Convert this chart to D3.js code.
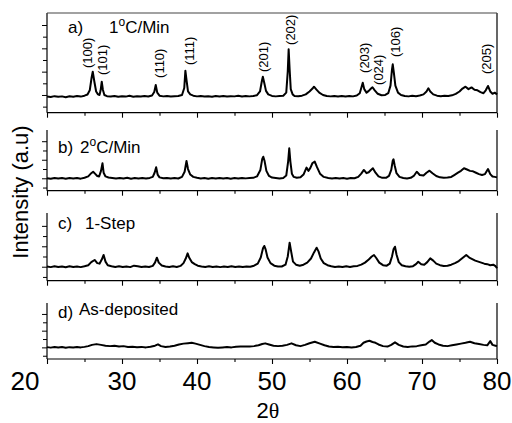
<!DOCTYPE html>
<html>
<head>
<meta charset="utf-8">
<script src="https://cdn.jsdelivr.net/npm/d3@7"></script>
<style>
  body { margin: 0; background: #fff; }
  svg { display: block; }
  text { font-family: "Liberation Sans", Arial, sans-serif; fill: #000; }
</style>
</head>
<body>
<svg id="chart" width="512" height="423"></svg>
<script>
// XRD scans: [2θ (deg), intensity (counts above background)]
const scan1C = [
  [20.0,-14],[20.5,-18],[21.0,-10],[21.5,-16],[22.0,-12],[22.5,-19],[23.0,-11],[23.5,-15],[24.0,-9],[24.5,-14],
  [25.0,-6],[25.4,4],[25.7,40],[25.95,150],[26.1,200],[26.3,120],[26.55,30],[26.8,5],[27.0,0],[27.15,40],
  [27.3,114],[27.45,45],[27.65,0],[28.0,-10],[28.5,-13],[29.0,-8],[29.5,-16],[30.0,-10],[30.5,-14],[31.0,-7],
  [31.5,-15],[32.0,-10],[32.5,-14],[33.0,-9],[33.5,-13],[34.0,-4],[34.3,25],[34.5,86],[34.7,20],[35.0,-6],
  [35.5,-12],[36.0,-9],[36.5,-14],[37.0,-10],[37.5,-8],[38.0,0],[38.3,60],[38.45,208],[38.6,130],[38.8,30],
  [39.1,5],[39.5,-6],[40.0,-12],[40.5,-9],[41.0,-14],[41.5,-10],[42.0,-15],[42.5,-8],[43.0,-13],[43.5,-9],
  [44.0,-14],[44.5,-10],[45.0,-12],[45.5,-7],[46.0,-13],[46.5,-9],[47.0,-12],[47.5,-8],[48.0,-2],[48.4,30],
  [48.65,120],[48.78,157],[48.95,110],[49.2,35],[49.5,5],[50.0,-8],[50.5,-12],[51.0,-9],[51.5,-6],[51.9,20],
  [52.1,200],[52.22,392],[52.35,220],[52.5,50],[52.75,5],[53.0,-8],[53.5,-10],[54.0,-6],[54.5,5],[55.0,30],
  [55.4,55],[55.6,71],[55.9,48],[56.3,20],[56.8,0],[57.3,-9],[57.8,-12],[58.3,-8],[58.8,-13],[59.3,-9],
  [59.8,-14],[60.3,-8],[60.8,-12],[61.3,-5],[61.7,15],[61.95,70],[62.1,105],[62.3,50],[62.6,20],[62.9,35],
  [63.2,55],[63.4,66],[63.7,40],[64.1,10],[64.6,-2],[65.1,0],[65.5,15],[65.8,80],[66.0,220],[66.1,263],
  [66.25,190],[66.45,80],[66.8,20],[67.2,0],[67.7,-8],[68.2,-12],[68.7,-6],[69.2,-10],[69.7,-5],[70.2,5],
  [70.6,30],[70.85,57],[71.1,30],[71.5,5],[72.0,-6],[72.5,-10],[73.0,-7],[73.5,-9],[74.0,-3],[74.5,10],
  [75.0,30],[75.4,55],[75.8,71],[76.2,50],[76.6,65],[77.0,45],[77.4,40],[77.8,25],[78.2,15],[78.5,40],
  [78.8,77],[79.1,30],[79.4,10],[79.7,20],[80.0,5]
];
const scan2C = [
  [20.0,0],[20.5,-6],[21.0,4],[21.5,-3],[22.0,2],[22.5,-5],[23.0,3],[23.5,-2],[24.0,4],[24.5,-4],
  [25.0,6],[25.5,20],[25.9,55],[26.15,71],[26.4,50],[26.7,25],[26.95,20],[27.2,80],[27.4,162],[27.55,60],
  [27.8,20],[28.2,8],[28.7,3],[29.2,-3],[29.7,4],[30.2,-2],[30.7,5],[31.2,-4],[31.7,3],[32.2,-2],
  [32.7,2],[33.2,-3],[33.7,4],[34.1,15],[34.35,60],[34.55,119],[34.75,40],[35.0,10],[35.5,0],[36.0,4],
  [36.5,-3],[37.0,2],[37.5,-2],[38.0,15],[38.35,70],[38.6,187],[38.8,100],[39.1,40],[39.5,15],[40.0,5],
  [40.5,-2],[41.0,3],[41.5,-4],[42.0,2],[42.5,-3],[43.0,4],[43.5,-2],[44.0,3],[44.5,-4],[45.0,2],
  [45.5,-3],[46.0,4],[46.5,-1],[47.0,3],[47.5,5],[48.0,20],[48.45,90],[48.7,210],[48.84,233],[49.0,190],
  [49.25,80],[49.6,25],[50.0,8],[50.5,3],[51.0,-2],[51.5,4],[51.9,30],[52.15,180],[52.3,324],[52.45,180],
  [52.65,50],[52.9,15],[53.3,5],[53.8,10],[54.2,40],[54.6,115],[54.85,80],[55.1,110],[55.4,165],[55.7,180],
  [56.0,120],[56.4,50],[56.9,15],[57.5,3],[58.0,-2],[58.5,3],[59.0,-3],[59.5,2],[60.0,-4],[60.5,3],
  [61.0,0],[61.5,15],[61.9,50],[62.25,90],[62.6,55],[62.9,65],[63.2,90],[63.45,108],[63.8,60],[64.2,20],
  [64.7,5],[65.2,5],[65.6,25],[65.9,90],[66.1,190],[66.2,205],[66.35,140],[66.6,55],[67.0,15],[67.5,3],
  [68.0,-2],[68.5,5],[68.9,25],[69.3,71],[69.7,35],[70.2,30],[70.6,60],[71.0,82],[71.4,55],[71.9,25],
  [72.4,10],[72.9,5],[73.4,8],[73.9,15],[74.3,35],[74.8,60],[75.2,80],[75.6,108],[76.0,95],[76.4,80],
  [76.8,75],[77.2,60],[77.6,45],[78.0,35],[78.4,45],[78.8,100],[79.1,45],[79.4,20],[79.7,15],[80.0,10]
];
const scanOneStep = [
  [20.0,2],[20.5,-4],[21.0,5],[21.5,-3],[22.0,3],[22.5,-5],[23.0,4],[23.5,-2],[24.0,3],[24.5,-4],
  [25.0,5],[25.5,15],[25.9,45],[26.35,66],[26.7,35],[27.0,30],[27.3,70],[27.55,115],[27.8,50],[28.1,15],
  [28.6,5],[29.1,-2],[29.6,4],[30.1,-3],[30.6,3],[31.1,-4],[31.6,10],[32.1,5],[32.6,-2],[33.1,3],
  [33.6,-3],[34.1,8],[34.4,40],[34.65,88],[34.9,40],[35.3,12],[35.8,2],[36.3,-3],[36.8,4],[37.3,-2],
  [37.8,8],[38.2,35],[38.5,80],[38.75,131],[38.95,90],[39.3,45],[39.7,25],[40.1,10],[40.6,3],[41.1,-3],
  [41.6,4],[42.1,-2],[42.6,3],[43.1,-4],[43.6,2],[44.1,-3],[44.6,4],[45.1,-2],[45.6,3],[46.1,-3],
  [46.6,2],[47.1,0],[47.6,10],[48.1,30],[48.5,90],[48.8,180],[48.97,203],[49.15,170],[49.4,90],[49.8,35],
  [50.3,10],[50.8,3],[51.3,2],[51.8,20],[52.1,100],[52.35,235],[52.55,150],[52.8,50],[53.2,20],[53.7,10],
  [54.2,20],[54.7,40],[55.2,80],[55.6,140],[55.95,186],[56.2,150],[56.5,80],[56.9,35],[57.4,15],[57.9,5],
  [58.4,-2],[58.9,3],[59.4,-3],[59.9,4],[60.4,-2],[60.9,5],[61.4,8],[61.9,20],[62.4,40],[62.9,70],
  [63.3,100],[63.6,115],[63.9,85],[64.3,40],[64.8,15],[65.3,10],[65.7,30],[66.0,100],[66.2,170],[66.4,196],
  [66.6,120],[66.9,45],[67.3,15],[67.8,5],[68.3,0],[68.8,5],[69.2,25],[69.5,49],[69.9,25],[70.3,20],
  [70.7,45],[71.1,82],[71.5,60],[71.9,30],[72.4,15],[72.9,8],[73.4,10],[73.9,20],[74.4,35],[74.9,55],
  [75.4,85],[75.9,115],[76.3,90],[76.7,75],[77.1,60],[77.5,50],[77.9,40],[78.3,30],[78.7,25],[79.1,15],
  [79.5,20],[79.8,5],[80.0,-15]
];
const scanAsDep = [
  [20.0,3],[20.5,-3],[21.0,5],[21.5,-2],[22.0,4],[22.5,-4],[23.0,3],[23.5,-1],[24.0,5],[24.5,0],
  [25.0,6],[25.5,15],[26.0,30],[26.6,39],[27.2,30],[27.8,20],[28.4,15],[29.0,20],[29.6,10],[30.2,15],
  [30.8,5],[31.4,8],[32.0,2],[32.6,6],[33.2,0],[33.8,8],[34.4,20],[34.8,36],[35.2,15],[35.8,5],
  [36.4,10],[37.0,20],[37.6,35],[38.2,45],[38.8,50],[39.3,55],[39.8,45],[40.4,30],[41.0,15],[41.6,5],
  [42.2,0],[42.8,-5],[43.4,0],[44.0,5],[44.6,0],[45.2,8],[45.8,10],[46.4,12],[47.0,10],[47.6,15],
  [48.2,25],[48.7,40],[49.1,48],[49.6,35],[50.2,20],[50.8,15],[51.4,20],[52.0,30],[52.6,48],[53.2,25],
  [53.8,15],[54.4,30],[55.0,50],[55.7,67],[56.4,45],[57.0,25],[57.6,10],[58.2,5],[58.8,8],[59.4,2],
  [60.0,5],[60.6,0],[61.2,5],[61.8,20],[62.2,55],[62.6,70],[63.0,79],[63.4,65],[63.8,55],[64.2,35],
  [64.8,15],[65.4,10],[65.9,30],[66.4,60],[66.9,30],[67.5,10],[68.1,5],[68.7,12],[69.3,15],[69.9,25],
  [70.5,35],[71.0,70],[71.3,87],[71.7,55],[72.2,35],[72.8,20],[73.4,15],[74.0,25],[74.6,35],[75.2,45],
  [75.8,55],[76.4,67],[77.0,50],[77.6,40],[78.2,30],[78.7,25],[79.1,75],[79.4,30],[79.8,20],[80.0,15]
];

// Miller indices marked on the 1 °C/min scan: name, 2θ of label, intensity level where label starts
const peakNames = ["(100)","(101)","(110)","(111)","(201)","(202)","(203)","(024)","(106)","(205)"];
const peakLabelTheta = [25.5, 27.5, 35.15, 39.15, 49.05, 52.6, 62.4, 64.3, 66.6, 78.7];
const peakLabelLevel = [231, 171, 146, 257, 197, 429, 189, 86, 326, 180];

const panelLetters = ["a)", "b)", "c)", "d)"];
const panelTitleMain = ["1", "2", "1-Step", "As-deposited"];
const panelTitleSup = ["o", "o", "", ""];
const panelTitleRest = ["C/Min", "C/Min", "", ""];

const xTickValues = [20, 30, 40, 50, 60, 70, 80];
const xMinorValues = [25, 35, 45, 55, 65, 75];
const xTickLabels = ["20", "30", "40", "50", "60", "70", "80"];
const yLabel = "Intensity (a.u)";

const scans = [scan1C, scan2C, scanOneStep, scanAsDep];

// panel geometry (pixels) and intensity ranges
const panels = [
  { top: 13,  bottom: 112.7, lo: -152, hi: 703, frame: true,  letterX: 68, letterY: 33,  titleX: 109, titleY: 33 },
  { top: 130, bottom: 190.7, lo: -134, hi: 521, frame: false, letterX: 58, letterY: 153, titleX: 80,  titleY: 153 },
  { top: 213, bottom: 280.7, lo: -137, hi: 526, frame: false, letterX: 58, letterY: 229, titleX: 85,  titleY: 229 },
  { top: 303, bottom: 359,   lo: -139, hi: 531, frame: false, letterX: 58, letterY: 318, titleX: 79,  titleY: 315 }
];

const left = 47, right = 497;
const svg = d3.select("#chart");
const x = d3.scaleLinear().domain([20, 80]).range([left, right]);

panels.forEach((p, i) => {
  const y = d3.scaleLinear().domain([p.lo, p.hi]).range([p.bottom, p.top]);
  const g = svg.append("g");

  // intensity ticks on the left edge (every 100 counts)
  const yMajor = d3.range(Math.ceil(p.lo / 200) * 200, p.hi - 60, 200);
  const yMinor = d3.range(Math.ceil(p.lo / 100) * 100, p.hi - 60, 100).filter(v => v % 200 !== 0);
  [[yMajor, 5], [yMinor, 4]].forEach(([vals, len]) => {
    g.append("g").attr("transform", `translate(${left},0)`)
      .call(d3.axisLeft(y).tickValues(vals).tickSize(len).tickSizeOuter(0).tickFormat(""))
      .call(a => a.select(".domain").remove())
      .call(a => a.selectAll("line").attr("stroke", "#000"));
  });

  // left and right edges
  g.append("line").attr("x1", left).attr("x2", left).attr("y1", p.top).attr("y2", p.bottom)
    .attr("stroke", "#000").attr("stroke-width", 1.2);
  g.append("line").attr("x1", right).attr("x2", right).attr("y1", p.top).attr("y2", p.bottom)
    .attr("stroke", "#000").attr("stroke-width", 1.2);
  if (p.frame) {
    g.append("line").attr("x1", left).attr("x2", right).attr("y1", p.top).attr("y2", p.top)
      .attr("stroke", "#444").attr("stroke-width", 1.2);
  }

  // 2θ axis along the bottom
  [[xTickValues, 5], [xMinorValues, 3]].forEach(([vals, len]) => {
    g.append("g").attr("transform", `translate(0,${p.bottom})`)
      .call(d3.axisBottom(x).tickValues(vals).tickSize(len).tickSizeOuter(0).tickFormat(""))
      .call(a => a.select(".domain").remove())
      .call(a => a.selectAll("line").attr("stroke", "#000").attr("stroke-width", 1.1));
  });
  g.append("line").attr("x1", left).attr("x2", right).attr("y1", p.bottom).attr("y2", p.bottom)
    .attr("stroke", "#000").attr("stroke-width", 1.2);

  // diffraction pattern
  const line = d3.line().x(d => x(d[0])).y(d => y(d[1]));
  g.append("path").datum(scans[i]).attr("d", line)
    .attr("fill", "none").attr("stroke", "#000").attr("stroke-width", 2)
    .attr("stroke-linejoin", "round");

  // panel caption
  g.append("text").attr("x", p.letterX).attr("y", p.letterY)
    .attr("font-size", 17).text(panelLetters[i]);
  const t = g.append("text").attr("x", p.titleX).attr("y", p.titleY).attr("font-size", 17);
  t.append("tspan").text(panelTitleMain[i]);
  if (panelTitleSup[i]) {
    t.append("tspan").attr("font-size", 12).attr("dy", -7).text(panelTitleSup[i]);
    t.append("tspan").attr("dy", 7).text(panelTitleRest[i]);
  }

  // Miller index labels on the top scan
  if (i === 0) {
    g.selectAll(".hkl").data(peakNames).join("text")
      .attr("class", "hkl")
      .attr("font-size", 13)
      .attr("transform", (d, k) => `translate(${x(peakLabelTheta[k]) + 3.5},${y(peakLabelLevel[k])}) rotate(-90)`)
      .text(d => d);
  }

  // tick labels only under the last panel
  if (i === panels.length - 1) {
    g.selectAll(".xl").data(xTickLabels).join("text")
      .attr("class", "xl")
      .attr("font-size", 26)
      .attr("text-anchor", "middle")
      .attr("x", (d, k) => x(xTickValues[k]) - (k === 0 ? 22 : 0))
      .attr("y", 390)
      .text(d => d);
  }
});

// axis titles
svg.append("text")
  .attr("transform", "translate(28,192) rotate(-90)")
  .attr("text-anchor", "middle")
  .attr("font-size", 22)
  .text(yLabel);

const xt = svg.append("text").attr("x", 268).attr("y", 418)
  .attr("text-anchor", "middle").attr("font-size", 22);
xt.append("tspan").text("2");
xt.append("tspan").style("font-family", "'Liberation Serif', serif").text("θ");
</script>
</body>
</html>
